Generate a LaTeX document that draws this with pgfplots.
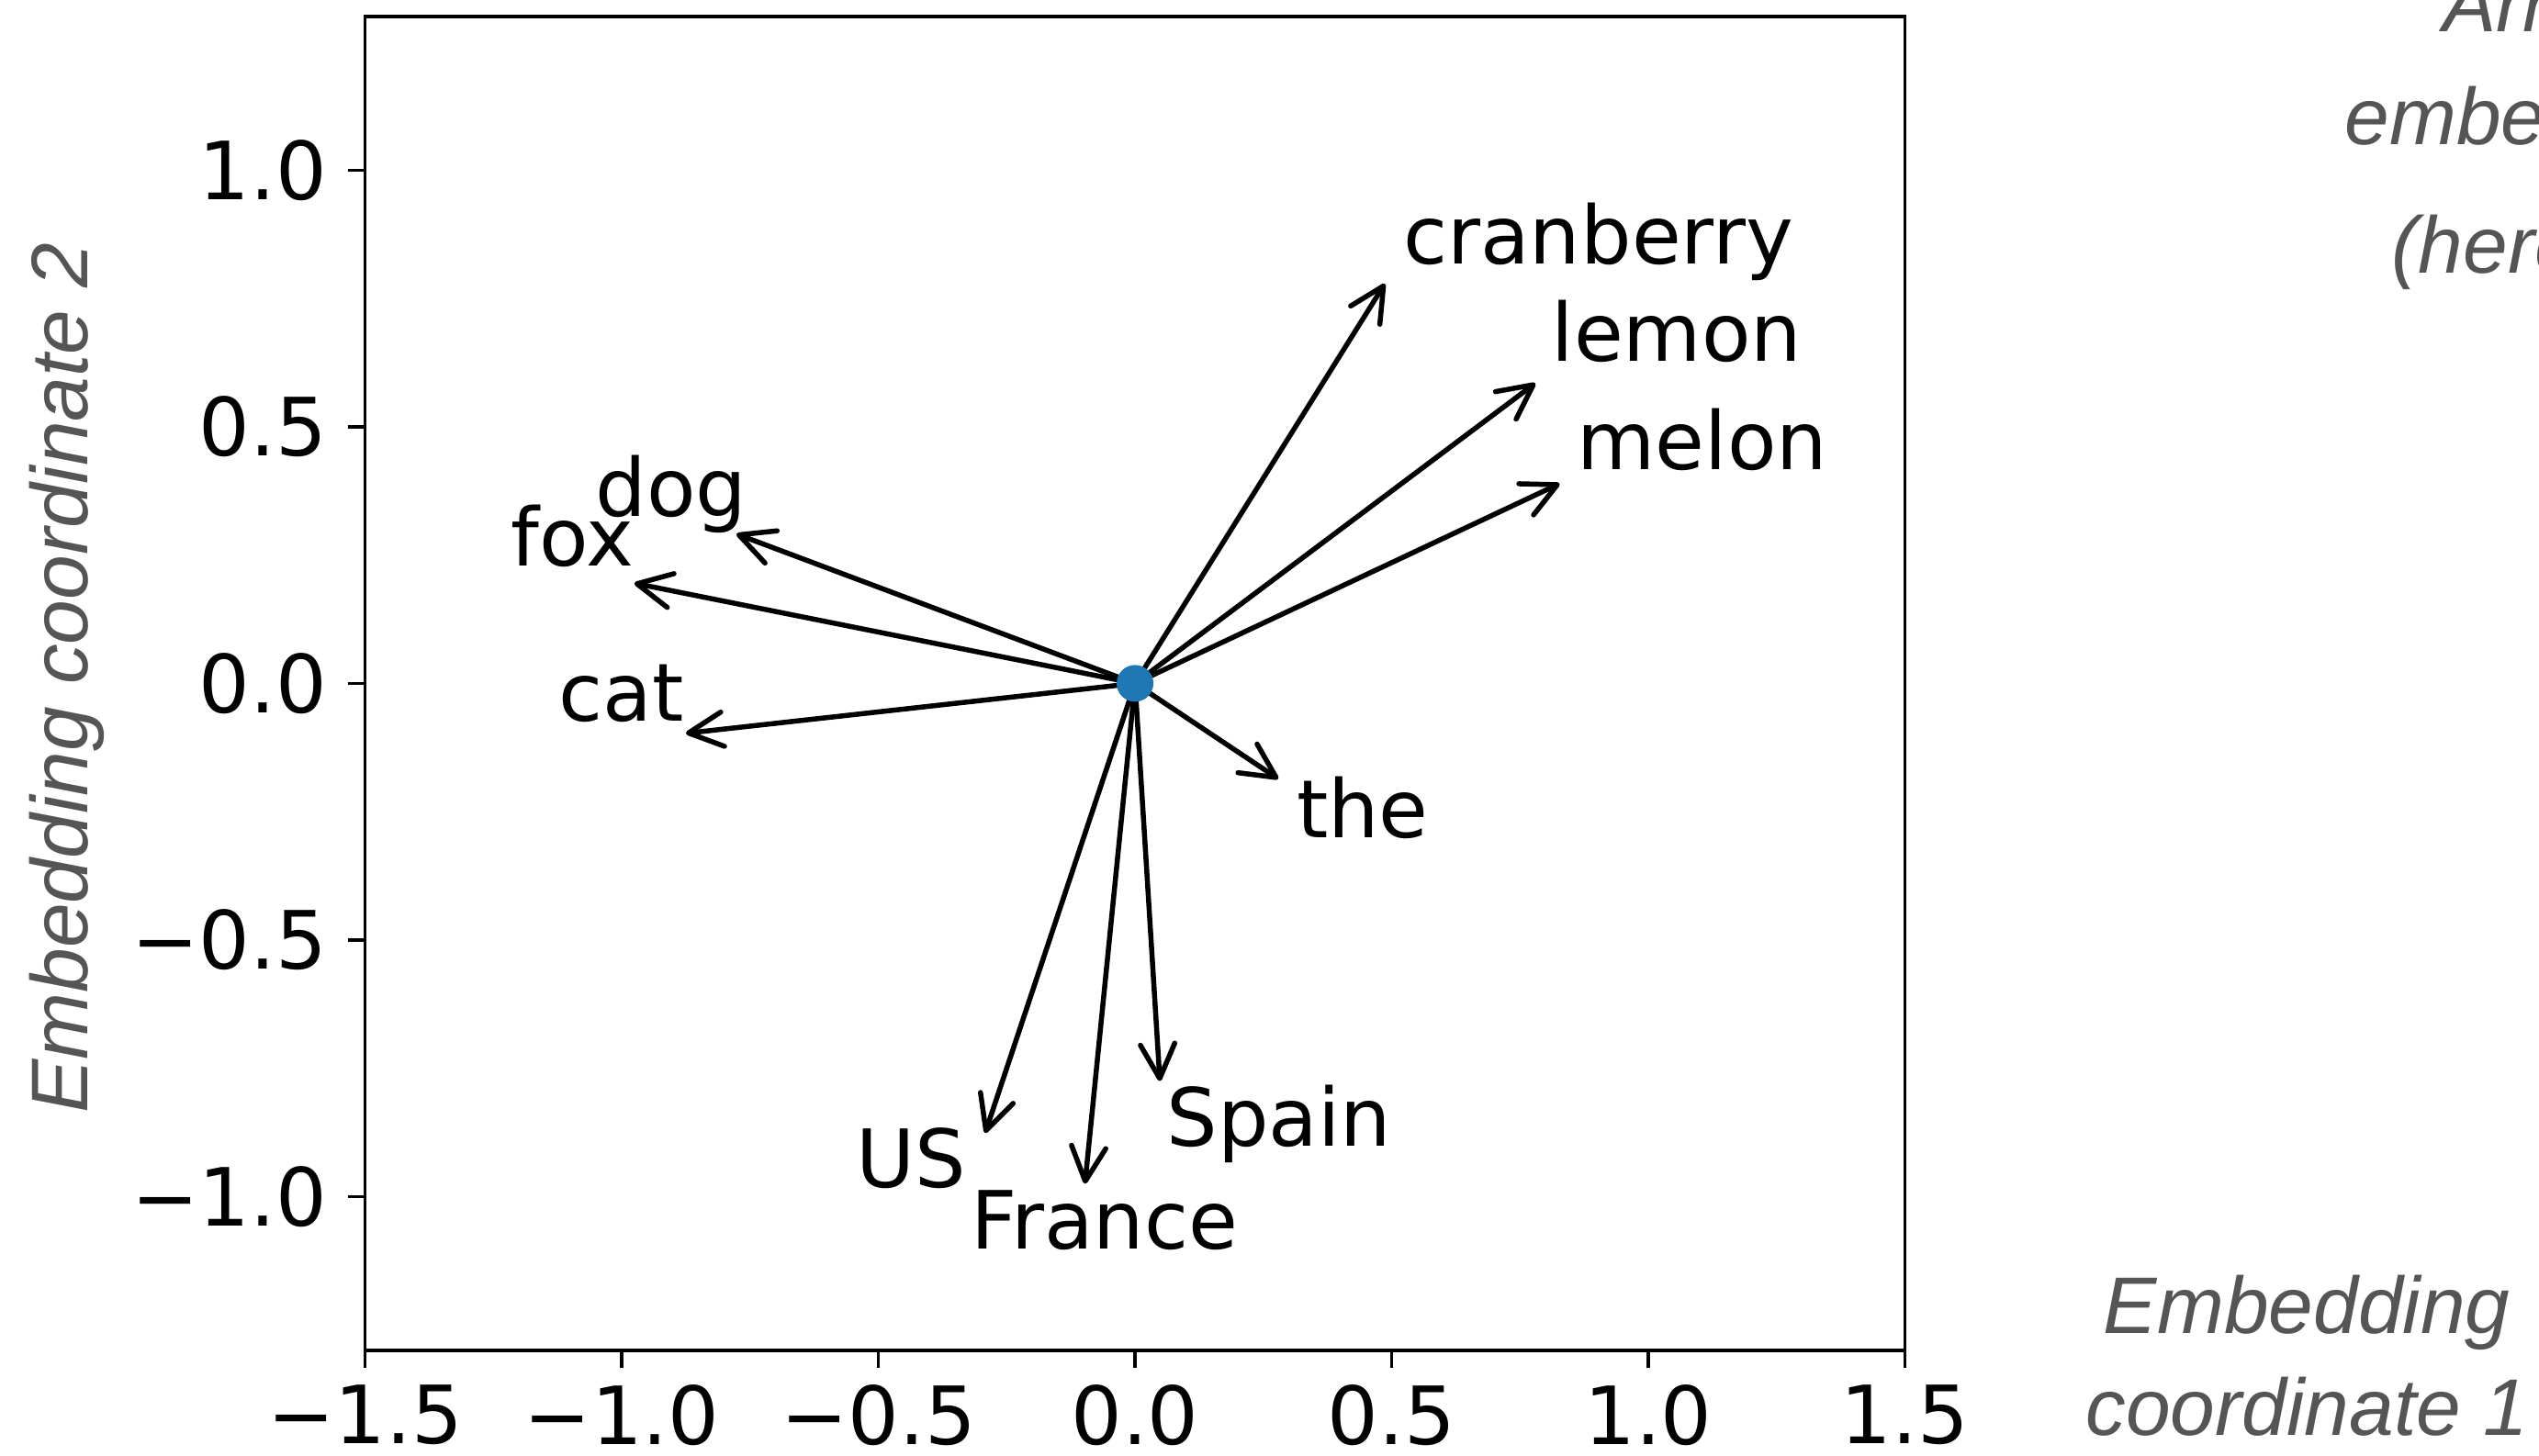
\documentclass[border=0pt]{standalone}
\usepackage{fontspec}
\setmainfont{DejaVu Sans}
\newfontfamily\helv{Liberation Sans}
\usepackage{pgfplots}
\usepackage{pgfplotstable}
\pgfplotsset{compat=1.18}
\usetikzlibrary{arrows.meta}
\definecolor{labgray}{HTML}{555555}
\definecolor{mplblue}{HTML}{1F77B4}
\pgfplotstableread{
x y u v
0 0 0.5 0.8
0 0 0.8 0.6
0 0 0.85 0.4
0 0 -0.8 0.3
0 0 -1.0 0.2
0 0 -0.9 -0.1
0 0 0.3 -0.2
0 0 -0.3 -0.9
0 0 -0.1 -1.0
0 0 0.05 -0.8
}\vectors
\newcommand{\wf}{\fontsize{17.5}{21}\selectfont}
\begin{document}
\begin{tikzpicture}
\useasboundingbox (-79.54pt,-23pt) rectangle (473.46pt,294.2pt);
\begin{axis}[
  at={(0,0)}, anchor=south west,
  scale only axis, width=335.34pt, height=290.63pt,
  xmin=-1.5, xmax=1.5, ymin=-1.3, ymax=1.3,
  axis line style={line width=0.7pt, black},
  xtick={-1.5,-1,-0.5,0,0.5,1,1.5},
  xticklabels={−1.5,−1.0,−0.5,0.0,0.5,1.0,1.5},
  ytick={-1,-0.5,0,0.5,1},
  yticklabels={−1.0,−0.5,0.0,0.5,1.0},
  tick align=outside, major tick length=3.8pt,
  tick style={line width=0.7pt, black},
  xtick pos=bottom, ytick pos=left,
  ticklabel style={font=\wf, inner sep=0pt, outer sep=0pt},
  xticklabel style={yshift=-3.8pt},
  yticklabel style={xshift=-4.6pt},
]
\addplot[only marks, mark=*, mark size=3.8pt, color=mplblue] coordinates {(0,0)};
\addplot[black, line width=1.1pt,
  quiver={u=\thisrow{u}, v=\thisrow{v},
    every arrow/.append style={line width=1.1pt, line cap=round, line join=round,
      shorten >=2.8pt, shorten <=2.8pt,
      -{Straight Barb[length=7.5pt,width=7.5pt,round]}}}]
  table[x=x,y=y] {\vectors};
\node[anchor=base west, inner sep=0pt, font=\wf] at (axis cs:0.521,0.817) {cranberry};
\node[anchor=base west, inner sep=0pt, font=\wf] at (axis cs:0.81,0.627) {lemon};
\node[anchor=base west, inner sep=0pt, font=\wf] at (axis cs:0.86,0.417) {melon};
\node[anchor=base west, inner sep=0pt, font=\wf] at (axis cs:-1.053,0.326) {dog};
\node[anchor=base west, inner sep=0pt, font=\wf] at (axis cs:-1.217,0.228) {fox};
\node[anchor=base west, inner sep=0pt, font=\wf] at (axis cs:-1.125,-0.073) {cat};
\node[anchor=base west, inner sep=0pt, font=\wf] at (axis cs:0.313,-0.300) {the};
\node[anchor=base west, inner sep=0pt, font=\wf] at (axis cs:-0.545,-0.983) {US};
\node[anchor=base west, inner sep=0pt, font=\wf] at (axis cs:-0.322,-1.102) {France};
\node[anchor=base west, inner sep=0pt, font=\wf] at (axis cs:0.06,-0.902) {Spain};
\end{axis}
\node[rotate=90, anchor=base, inner sep=0pt, text=labgray, font=\helv\itshape\wf] at (-60.5pt,146.5pt) {Embedding coordinate 2};
\node[anchor=base, inner sep=0pt, text=labgray, font=\helv\itshape\wf] at (422.9pt,3.6pt) {Embedding};
\node[anchor=base, inner sep=0pt, text=labgray, font=\helv\itshape\wf] at (422.9pt,-18.6pt) {coordinate 1};
\node[anchor=base west, inner sep=0pt, text=labgray, font=\helv\itshape\wf] at (452.3pt,287.2pt) {Arrows show word};
\node[anchor=base west, inner sep=0pt, text=labgray, font=\helv\itshape\wf] at (431.0pt,262.6pt) {embedding vectors};
\node[anchor=base west, inner sep=0pt, text=labgray, font=\helv\itshape\wf] at (441.2pt,234.6pt) {(here in 2-D)};
\end{tikzpicture}
\end{document}
